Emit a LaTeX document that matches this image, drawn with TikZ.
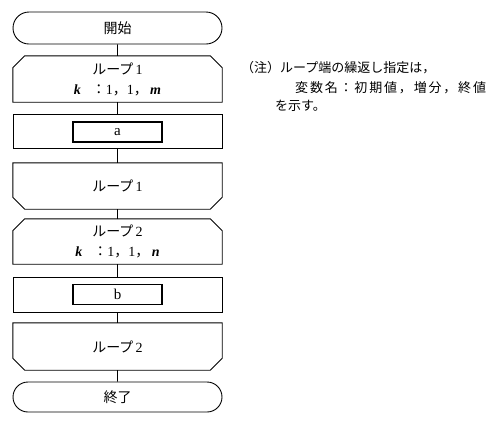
\documentclass[tikz,border=0pt]{standalone}
\usepackage{fontspec}
\newfontfamily\jp{Noto Sans CJK JP}
\newfontfamily\ls{Liberation Serif}
\usetikzlibrary{shapes.misc}
\newcommand\jpf{\jp\fontsize{14}{20}\selectfont}
\newcommand\jpn{\jp\fontsize{13}{20}\selectfont}
\newcommand\bik[1]{{\ls\bfseries\itshape #1}}
\newcommand\dg[1]{{\ls #1}}
\begin{document}
\begin{tikzpicture}[x=1pt,y=-1pt,
  line/.style={line width=0.9pt},
  term/.style={rounded rectangle, draw, line, minimum width=209pt, inner sep=0pt, font=\jpf},
  block/.style={rectangle, minimum width=209pt, inner sep=0pt, align=center, font=\jpf},
  frame/.style={rectangle, draw, line, minimum width=209pt, inner sep=0pt},
  inbox/.style={rectangle, draw, line width=1.8pt, minimum width=89pt, minimum height=20pt, inner sep=0pt, font=\ls\fontsize{15}{15}\selectfont},
  note/.style={anchor=base west, inner sep=0pt, font=\jpn},
  conn/.style={line}
]
\useasboundingbox (0,0) rectangle (500,424);
\fill[white] (0,0) rectangle (500,424);

\node[term, minimum height=32pt] (start) at (117.5,28) {開始};
\node[block, minimum height=46pt] (l1s) at (117.5,79) {ループ\,\dg{1}\\ \bik{k}\hspace{11pt}：\dg{1}，\dg{1}，\,\bik{m}};
\node[frame, minimum height=34pt] (fa) at (117.5,131) {};
\node[inbox] (a) at (117.5,132) {a};
\node[block, minimum height=46pt] (l1e) at (117.5,186) {ループ\,\dg{1}};
\node[block, minimum height=45pt] (l2s) at (117.5,241.5) {ループ\,\dg{2}\\ \bik{k}\hspace{11pt}：\dg{1}，\dg{1}，\,\bik{n}};
\node[frame, minimum height=35pt] (fb) at (117.5,294.5) {};
\node[inbox] (b) at (117.5,294.5) {b};
\node[block, minimum height=47pt] (l2e) at (117.5,346.5) {ループ\,\dg{2}};
\node[term, minimum height=30pt] (end) at (117.5,397) {終了};

\foreach \n in {l1s,l2s}{
  \draw[line] (\n.south west) -- ([yshift=-12pt]\n.north west) -- ([xshift=12pt]\n.north west)
    -- ([xshift=-12pt]\n.north east) -- ([yshift=-12pt]\n.north east) -- (\n.south east) -- cycle;
}
\foreach \n in {l1e,l2e}{
  \draw[line] (\n.north west) -- (\n.north east) -- ([yshift=12pt]\n.south east)
    -- ([xshift=-12pt]\n.south east) -- ([xshift=12pt]\n.south west) -- ([yshift=12pt]\n.south west) -- cycle;
}

\draw[conn] (start) -- (l1s);
\draw[conn] (l1s) -- (fa);
\draw[conn] (fa) -- (l1e);
\draw[conn] (l1e) -- (l2s);
\draw[conn] (l2s) -- (fb);
\draw[conn] (fb) -- (l2e);
\draw[conn] (l2e) -- (end);

\node[note] (n1) at (241,72) {（注）ループ端の繰返し指定は，};
\node[note] (n2) at (295,92) {\addfontfeature{LetterSpace=14}変数名：初期値，増分，終値};
\node[note] (n3) at (275,110) {を示す。};
\end{tikzpicture}
\end{document}
